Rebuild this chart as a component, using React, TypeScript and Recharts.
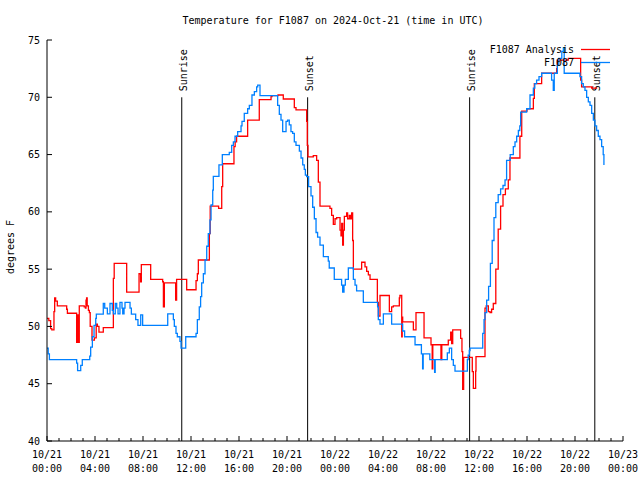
import React from "react";
import { LineChart, Line, XAxis, YAxis, ReferenceLine, Legend } from "recharts";

// hours since 10/21 00:00 UTC, temps in degrees F
const analysisHours = [
  0, 0.15, 0.3, 0.4, 0.58, 0.64, 0.72, 0.86, 1.64, 1.7, 2.47, 2.55, 2.61, 2.69,
  3.1, 3.2, 3.25, 3.3, 3.35, 3.45, 3.53, 3.6, 3.75, 3.95, 4.1, 4.2, 4.33, 4.69,
  5.53, 5.6, 6.64, 7.67, 7.8, 7.86, 8.64, 9.64, 9.7, 9.78, 10.72, 10.8, 11.64,
  12.42, 12.53, 12.61, 13.53, 13.6, 14.3, 14.56, 14.64, 15.58, 15.68, 15.8,
  16.72, 17.69, 18.67, 18.75, 19.25, 19.69, 20.61, 20.75, 21.64, 21.69, 21.75,
  22.19, 22.47, 22.61, 22.75, 23.58, 23.72, 23.86, 24.0, 24.14, 24.42, 24.5,
  24.56, 24.64, 24.7, 24.78, 24.97, 25.05, 25.19, 25.3, 25.39, 25.47, 25.53,
  26.22, 26.5, 26.64, 26.78, 26.92, 27.53, 27.61, 27.75, 28.53, 28.72, 28.86,
  29.36, 29.41, 29.56, 29.6, 29.64, 30.53, 30.75, 31.42, 32.0, 32.1, 32.15,
  32.83, 32.9, 33.44, 33.64, 33.72, 33.81, 34.47, 34.58, 34.64, 34.72, 35.44,
  35.53, 35.72, 35.75, 36.5, 36.6, 36.78, 36.92, 37.05, 37.19, 37.4, 37.6, 37.8,
  38.0, 38.2, 38.44, 38.58, 39.41, 39.56, 40.0, 40.53, 40.61, 41.22, 42.47,
  42.53, 43.44, 44.47, 44.55, 45.39, 45.85,
];
const analysisTemps = [
  50.7, 50.5, 49.8, 49.7, 51.3, 52.5, 52.2, 51.8, 51.5, 51.15, 48.6, 51.0, 48.6, 51.8,
  51.7, 51.6, 52.3, 52.5, 51.8, 51.4, 51.2, 50.0, 48.8, 49.0, 50.2, 50.0, 49.5, 49.9,
  54.2, 55.5, 53.0, 54.6, 53.9, 55.4, 54.1, 53.9, 51.7, 53.8, 52.3, 54.1, 53.2,
  54.0, 54.6, 55.8, 58.1, 60.5, 60.3, 62.2, 64.2, 65.7, 66.1, 66.6,
  68.0, 69.8, 70.06, 70.15, 70.2, 69.85, 69.1, 68.9, 67.9, 65.8, 64.8,
  64.9, 64.5, 62.6, 60.5, 60.3, 59.7, 58.9, 59.4, 59.5, 58.4, 57.9,
  59.0, 57.1, 58.4, 59.6, 59.9, 59.4, 59.7, 59.4, 59.9, 57.5, 55.0,
  55.6, 55.2, 54.8, 54.5, 54.1, 52.1, 50.9, 52.7, 51.3, 51.7, 51.8,
  52.5, 52.7, 49.1, 50.8, 50.4, 49.7, 51.2, 49.0, 48.4, 46.3, 48.4,
  47.1, 48.4, 48.8, 49.5, 48.5, 49.7, 48.96, 47.8, 44.5, 47.3, 46.06,
  44.6, 46.1, 47.36, 51.6, 51.8, 51.3, 51.2, 51.5, 52.0, 55.0, 58.5, 60.5,
  61.5, 62.0, 62.8, 64.7, 66.6, 68.8, 69.0, 69.9, 71.2, 72.1, 72.5,
  73.25, 73.4, 71.5, 70.9, 70.8, 70.8,
];

const stationHours = [
  0, 0.1, 0.2, 2.47, 2.55, 2.81, 2.94, 3.56, 3.64, 3.78, 3.92, 4.06, 4.11, 4.69,
  4.81, 5.03, 5.25, 5.44, 5.53, 5.69, 5.81, 5.92, 6.08, 6.25, 6.31, 6.42, 6.5,
  6.92, 7.03, 7.39, 7.58, 7.81, 7.97, 10.06, 10.53, 10.61, 10.75, 10.86, 11.08,
  11.17, 11.56, 12.42, 12.53, 12.69, 12.8, 12.89, 13.03, 13.17, 13.31, 13.44,
  13.58, 13.67, 13.81, 13.86, 14.33, 14.61, 15.19, 15.39, 15.53, 15.67, 15.89,
  16.17, 16.25, 16.44, 16.72, 16.86, 17.08, 17.28, 17.47, 17.56, 17.75, 19.22,
  19.36, 19.5, 19.64, 19.92, 20.05, 20.19, 20.33, 20.47, 20.61, 20.75, 21.03,
  21.17, 21.31, 21.44, 21.53, 21.64, 21.8, 22.0, 22.14, 22.28, 22.42, 22.55,
  22.75, 23.03, 23.44, 23.52, 23.94, 24.55, 24.64, 24.75, 24.86, 25.11, 25.53,
  25.67, 25.8, 26.36, 27.55, 27.61, 27.75, 28.03, 28.72, 29.64, 29.8, 30.67,
  31.2, 31.3, 31.35, 31.9, 32.3, 32.35, 33.36, 33.53, 33.72, 33.86, 34.0, 35.03,
  35.1, 35.19, 35.25, 36.31, 36.42, 36.5, 36.64, 36.8, 36.95, 37.1, 37.25, 37.4,
  37.6, 37.8, 38.0, 38.17, 38.3, 38.6, 38.86, 39.0, 39.14, 39.28, 39.4, 39.47,
  39.97, 40.25, 40.53, 40.65, 40.8, 41.0, 41.22, 42.05, 42.19, 42.27, 42.53,
  42.65, 42.9, 43.03, 43.1, 44.41, 44.55, 44.69, 44.83, 44.97, 45.11, 45.25,
  45.39, 45.53, 45.66, 45.8, 45.94, 46.08, 46.22, 46.35, 46.41,
];
const stationTemps = [
  48.1, 47.6, 47.1, 46.8, 46.15, 46.6, 47.1, 47.4, 48.2, 49.1, 50.1, 50.7, 51.07, 52.0,
  51.6, 51.1, 52.0, 51.4, 51.1, 52.0, 51.6, 51.1, 52.1, 51.6, 51.1, 51.6, 52.1,
  51.6, 51.07, 50.6, 50.1, 51.0, 50.1, 51.1, 50.6, 50.0, 49.4, 49.1, 48.7,
  48.1, 49.1, 49.4, 50.6, 51.7, 52.6, 53.8, 54.6, 55.8, 57.0, 58.1,
  59.3, 60.6, 61.9, 63.1, 64.1, 65.0, 65.2, 65.8, 66.1, 66.6, 67.0,
  67.5, 67.9, 68.6, 69.0, 69.3, 70.2, 70.5, 70.9, 71.07, 70.15, 69.3,
  68.5, 68.0, 67.0, 67.9, 68.0, 67.6, 67.0, 66.85, 66.1, 65.8, 65.3,
  64.7, 64.1, 63.7, 63.2, 63.07, 62.2, 61.4, 60.4, 59.4, 58.2, 57.8,
  57.1, 56.1, 55.7, 55.1, 54.1, 53.6, 53.0, 53.6, 54.1, 55.1, 54.1,
  53.6, 53.1, 52.1, 51.7, 50.6, 50.2, 51.1, 50.2, 49.6, 49.1, 48.4,
  47.6, 46.3, 47.6, 47.1, 46.0, 47.1, 47.7, 48.1, 47.1, 46.6, 46.1, 47.1,
  47.5, 47.9, 48.1, 49.4, 50.6, 51.2, 52.3, 53.5, 55.5, 57.5, 59.5, 60.8,
  61.5, 62.0, 62.3, 62.8, 64.5, 65.0, 65.7, 66.1, 66.6, 67.1, 67.5, 68.7,
  69.0, 70.2, 70.8, 71.2, 71.5, 71.8, 72.1, 71.5, 70.6, 72.1, 72.8,
  73.4, 74.0, 74.3, 72.1, 71.8, 71.2, 70.9, 70.6, 70.0, 69.6, 69.3,
  68.6, 68.0, 67.5, 67.1, 66.6, 66.3, 65.7, 65.0, 64.1,
];

const seriesNames = ["F1087 Analysis", "F1087"];

const sunNames = ["Sunrise", "Sunset", "Sunrise", "Sunset"];
const sunHours = [11.23, 21.72, 35.22, 45.65];

const tempTicks = [40, 45, 50, 55, 60, 65, 70, 75];
const labelHours = [0, 4, 8, 12, 16, 20, 24, 28, 32, 36, 40, 44, 48];
const labelDates = ["10/21", "10/21", "10/21", "10/21", "10/21", "10/21", "10/22", "10/22", "10/22", "10/22", "10/22", "10/22", "10/23"];
const labelTimes = ["00:00", "04:00", "08:00", "12:00", "16:00", "20:00", "00:00", "04:00", "08:00", "12:00", "16:00", "20:00", "00:00"];
const hourTicks = Array.from({ length: 49 }, (_, i) => i);

const FONT = "'DejaVu Sans Mono', monospace";

const analysisData = analysisHours.map((t, i) => ({ t, v: analysisTemps[i] }));
const stationData = stationHours.map((t, i) => ({ t, v: stationTemps[i] }));

function BottomTick({ x, y, payload }: any) {
  const i = labelHours.indexOf(payload.value);
  return (
    <g>
      <line x1={x} x2={x} y1={y} y2={y - (i >= 0 ? 5 : 3)} stroke="#000" />
      {i >= 0 && (
        <text x={x} y={y + 17} textAnchor="middle" fontFamily={FONT} fontSize={10} fill="#000">
          <tspan x={x}>{labelDates[i]}</tspan>
          <tspan x={x} dy={14}>{labelTimes[i]}</tspan>
        </text>
      )}
    </g>
  );
}

function TopTick({ x, y, payload }: any) {
  const major = labelHours.includes(payload.value);
  return <line x1={x} x2={x} y1={y} y2={y + (major ? 5 : 3)} stroke="#000" />;
}

function LeftTick({ x, y, payload }: any) {
  return (
    <g>
      <line x1={x} x2={x + 5} y1={y} y2={y} stroke="#000" />
      <text x={x - 7} y={y + 3.5} textAnchor="end" fontFamily={FONT} fontSize={10} fill="#000">
        {payload.value}
      </text>
    </g>
  );
}

function RightTick({ x, y }: any) {
  return <line x1={x} x2={x - 5} y1={y} y2={y} stroke="#000" />;
}

function SunLabel({ viewBox, text }: any) {
  const x = viewBox.x + 1.5;
  const y = viewBox.y - 6;
  return (
    <text
      x={x}
      y={y}
      transform={`rotate(-90 ${x} ${y})`}
      textAnchor="start"
      dominantBaseline="central"
      fontFamily={FONT}
      fontSize={10}
      fill="#000"
    >
      {text}
    </text>
  );
}

function LegendBox({ payload }: any) {
  const items = seriesNames
    .map((name) => (payload || []).find((p: any) => p.value === name))
    .filter(Boolean);
  return (
    <div style={{ fontFamily: FONT, fontSize: 10, color: "#000" }}>
      {items.map((p: any) => (
        <div
          key={p.value}
          style={{ display: "flex", justifyContent: "flex-end", alignItems: "center", height: 13 }}
        >
          <span>{p.value}</span>
          <svg width={29} height={13} style={{ marginLeft: 7 }}>
            <line x1={0} x2={29} y1={6.5} y2={6.5} stroke={p.color} strokeWidth={1.3} />
          </svg>
        </div>
      ))}
    </div>
  );
}

export default function App() {
  return (
    <div style={{ position: "absolute", top: 0, left: 0, width: 640, height: 480, background: "#fff" }}>
      <div
        style={{
          position: "absolute",
          top: 14,
          left: 0,
          width: 666,
          textAlign: "center",
          fontFamily: FONT,
          fontSize: 10,
          lineHeight: "14px",
        }}
      >
        Temperature for F1087 on 2024-Oct-21 (time in UTC)
      </div>
      <div
        style={{
          position: "absolute",
          left: 10,
          top: 247,
          transform: "translate(-50%, -50%) rotate(-90deg)",
          whiteSpace: "nowrap",
          fontFamily: FONT,
          fontSize: 10,
        }}
      >
        degrees F
      </div>
      <LineChart width={640} height={480} margin={{ top: 40, right: 17, bottom: 0, left: 0 }}>
        <XAxis
          dataKey="t"
          type="number"
          domain={[0, 48]}
          ticks={hourTicks}
          interval={0}
          height={39}
          tickSize={0}
          tickMargin={0}
          tickLine={false}
          axisLine={{ stroke: "#000" }}
          tick={<BottomTick />}
        />
        <XAxis
          xAxisId="top"
          orientation="top"
          type="number"
          domain={[0, 48]}
          ticks={hourTicks}
          interval={0}
          height={0}
          tickSize={0}
          tickMargin={0}
          tickLine={false}
          axisLine={{ stroke: "#000" }}
          tick={<TopTick />}
        />
        <YAxis
          type="number"
          domain={[40, 75]}
          ticks={tempTicks}
          interval={0}
          width={47}
          tickSize={0}
          tickMargin={0}
          tickLine={false}
          axisLine={{ stroke: "#000" }}
          tick={<LeftTick />}
        />
        <YAxis
          yAxisId="right"
          orientation="right"
          type="number"
          domain={[40, 75]}
          ticks={tempTicks}
          interval={0}
          width={0}
          tickSize={0}
          tickMargin={0}
          tickLine={false}
          axisLine={{ stroke: "#000" }}
          tick={<RightTick />}
        />
        {sunHours.map((h, i) => (
          <ReferenceLine
            key={i}
            segment={[{ x: h, y: 40 }, { x: h, y: 70 }]}
            stroke="#000"
            strokeWidth={1}
            label={<SunLabel text={sunNames[i]} />}
          />
        ))}
        <Line
          data={analysisData}
          dataKey="v"
          name={seriesNames[0]}
          type="stepAfter"
          stroke="#ff0000"
          strokeWidth={1.3}
          dot={false}
          isAnimationActive={false}
        />
        <Line
          data={stationData}
          dataKey="v"
          name={seriesNames[1]}
          type="stepAfter"
          stroke="#0080ff"
          strokeWidth={1.3}
          dot={false}
          isAnimationActive={false}
        />
        <Legend
          layout="vertical"
          align="center"
          verticalAlign="middle"
          content={<LegendBox />}
          wrapperStyle={{ left: 460, top: 43, width: 150 }}
        />
      </LineChart>
    </div>
  );
}
